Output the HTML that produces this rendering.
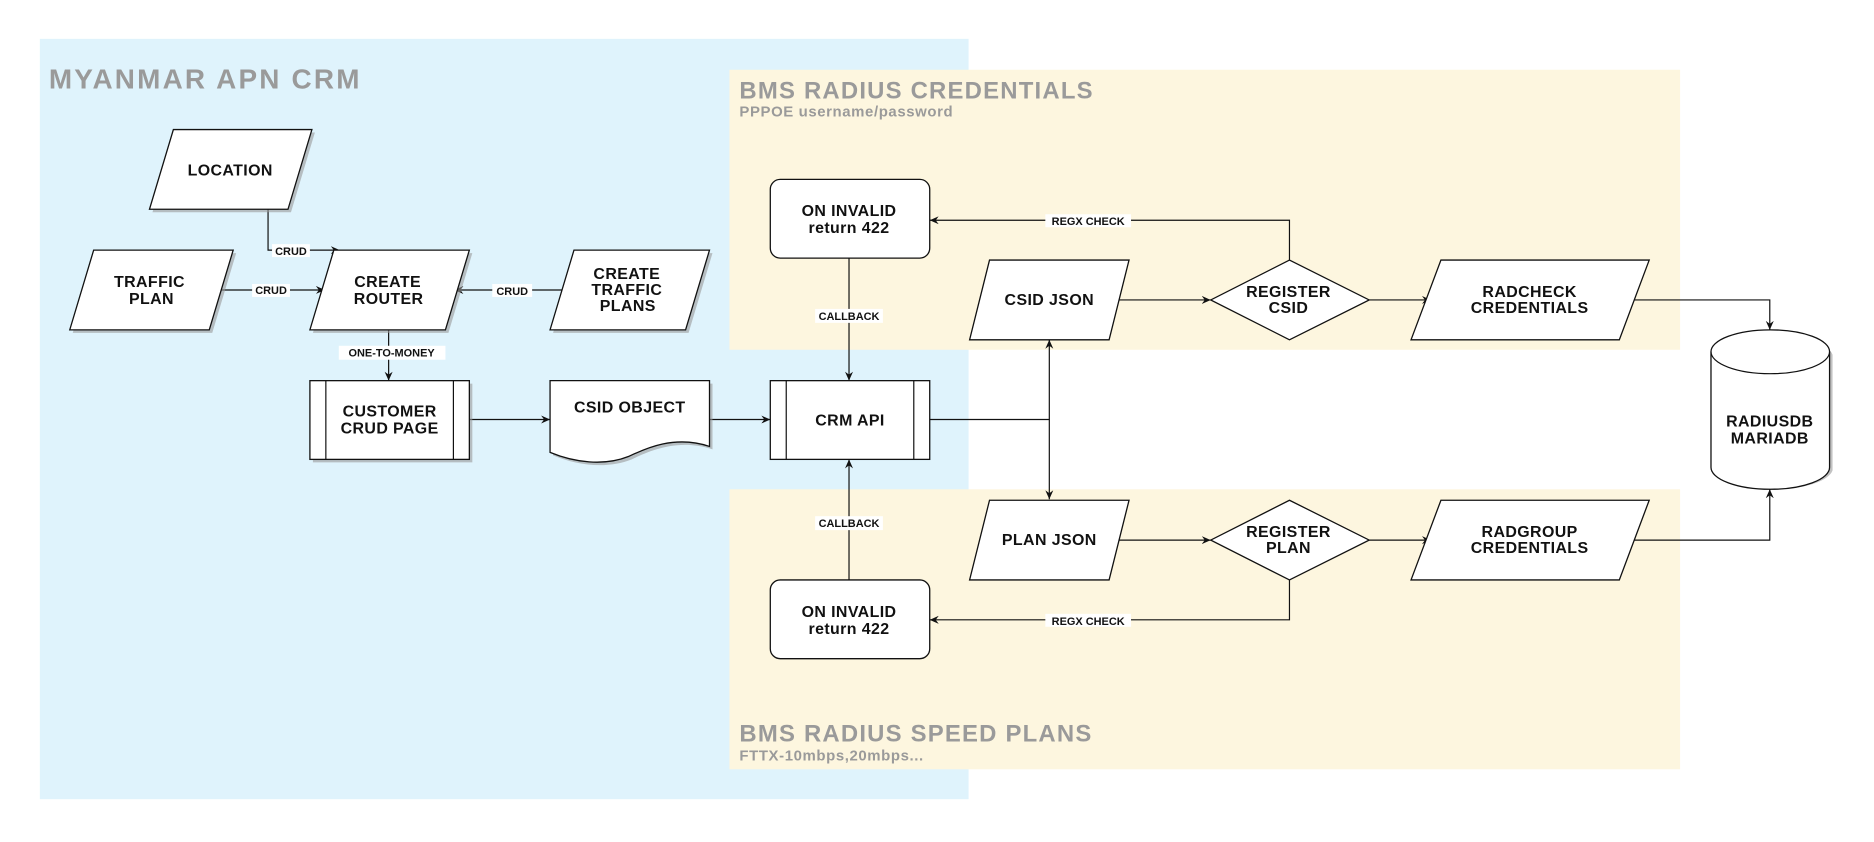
<!DOCTYPE html>
<html><head><meta charset="utf-8"><style>
html,body{margin:0;padding:0;background:#fff;}
svg{display:block;}
text{font-family:"Liberation Sans",sans-serif;font-weight:bold;}
.n{font-size:16px;fill:#111;text-anchor:middle;letter-spacing:0.4px;}
.l{font-size:11px;fill:#111;text-anchor:middle;}
.s{fill:#fff;stroke:#111;stroke-width:1.3;}
.sh{fill:#999;opacity:.6;}
.e{fill:none;stroke:#111;stroke-width:1.2;}
.lb{fill:#fff;}
</style></head><body>
<svg width="1874" height="842" viewBox="0 0 1874 842" xmlns="http://www.w3.org/2000/svg">
<defs><marker id="a" markerWidth="10" markerHeight="10" refX="9" refY="5" orient="auto" markerUnits="userSpaceOnUse"><path d="M0,1 L9,5 L0,9 L3,5 Z" fill="#111"/></marker></defs>
<g transform="translate(-1,-1) scale(0.9965)">
<rect x="41" y="40" width="932" height="763" fill="#dff3fc"/>
<rect x="733" y="71" width="954" height="281" fill="#fdf6df"/>
<rect x="733" y="492" width="954" height="281" fill="#fdf6df"/>
<text x="50" y="90" style="font-size:28px;fill:#9a9a9a;letter-spacing:2.2px">MYANMAR APN CRM</text>
<text x="743" y="100" style="font-size:24px;fill:#9a9a9a;letter-spacing:1.2px">BMS RADIUS CREDENTIALS</text>
<text x="743" y="118" style="font-size:15px;fill:#9a9a9a;letter-spacing:0.6px">PPPOE username/password</text>
<text x="743" y="745" style="font-size:24px;fill:#9a9a9a;letter-spacing:1.2px">BMS RADIUS SPEED PLANS</text>
<text x="743" y="764" style="font-size:15px;fill:#9a9a9a;letter-spacing:0.6px">FTTX-10mbps,20mbps...</text>

<path class="e" d="M270,211 V252 H342" marker-end="url(#a)"/>
<rect class="lb" x="274" y="246" width="38" height="13"/><text class="l" x="293" y="257">CRUD</text>
<path class="e" d="M220,292 H327" marker-end="url(#a)"/>
<rect class="lb" x="254" y="286" width="38" height="13"/><text class="l" x="273" y="296">CRUD</text>
<path class="e" d="M567,292 H457" marker-end="url(#a)"/>
<rect class="lb" x="495" y="286" width="40" height="13"/><text class="l" x="515" y="297">CRUD</text>
<path class="e" d="M391,332 V383" marker-end="url(#a)"/>
<rect class="lb" x="341" y="348" width="107" height="14"/><text class="l" x="394" y="359">ONE-TO-MONEY</text>
<path class="e" d="M472,422 H553" marker-end="url(#a)"/>
<path class="e" d="M713,422 H774" marker-end="url(#a)"/>
<path class="e" d="M853,260 V383" marker-end="url(#a)"/>
<rect class="lb" x="819" y="311" width="68" height="14"/><text class="l" x="853" y="322">CALLBACK</text>
<path class="e" d="M853,583 V462" marker-end="url(#a)"/>
<rect class="lb" x="819" y="519" width="68" height="14"/><text class="l" x="853" y="530">CALLBACK</text>
<path class="e" d="M934,422 H1054 V342" marker-end="url(#a)"/>
<path class="e" d="M1054,422 V502" marker-end="url(#a)"/>
<path class="e" d="M1295,262 V222 H934" marker-end="url(#a)"/>
<rect class="lb" x="1050" y="216" width="86" height="13"/><text class="l" x="1093" y="227">REGX CHECK</text>
<path class="e" d="M1295,583 V623 H934" marker-end="url(#a)"/>
<rect class="lb" x="1050" y="617" width="86" height="13"/><text class="l" x="1093" y="628">REGX CHECK</text>
<path class="e" d="M1118,302 H1216" marker-end="url(#a)"/>
<path class="e" d="M1375,302 H1437" marker-end="url(#a)"/>
<path class="e" d="M1118,543 H1216" marker-end="url(#a)"/>
<path class="e" d="M1375,543 H1437" marker-end="url(#a)"/>
<path class="e" d="M1632,302 H1777 V332" marker-end="url(#a)"/>
<path class="e" d="M1632,543 H1777 V492" marker-end="url(#a)"/>

<g>
<polygon class="sh" points="178,134 317,134 293,214 154,214"/>
<polygon class="s" points="175,131 314,131 290,211 151,211"/>
<text class="n" x="232" y="177">LOCATION</text>
</g>
<g>
<polygon class="sh" points="98,255 238,255 214,335 74,335"/>
<polygon class="s" points="95,252 235,252 211,332 71,332"/>
<text class="n" x="151" y="289">TRAFFIC</text><text class="n" x="153" y="306">PLAN</text>
</g>
<g>
<polygon class="sh" points="339,255 475,255 451,335 315,335"/>
<polygon class="s" points="336,252 472,252 448,332 312,332"/>
<text class="n" x="390" y="289">CREATE</text><text class="n" x="391" y="306">ROUTER</text>
</g>
<g>
<polygon class="sh" points="580,255 716,255 692,335 556,335"/>
<polygon class="s" points="577,252 713,252 689,332 553,332"/>
<text class="n" x="630" y="281">CREATE</text><text class="n" x="630" y="297">TRAFFIC</text><text class="n" x="631" y="313">PLANS</text>
</g>
<g>
<rect class="sh" x="315" y="386" width="160" height="79"/>
<rect class="s" x="312" y="383" width="160" height="79"/>
<path class="e" d="M328,383 V462 M456,383 V462"/>
<text class="n" x="392" y="419">CUSTOMER</text><text class="n" x="392" y="436">CRUD PAGE</text>
</g>
<g>
<path class="sh" d="M556,386 H716 V452 C680,440 650,455 635,462 C610,472 580,468 556,458 Z"/>
<path class="s" d="M553,383 H713 V449 C677,437 647,452 632,459 C607,469 577,465 553,455 Z"/>
<text class="n" x="633" y="415">CSID OBJECT</text>
</g>
<g>
<rect class="s" x="774" y="383" width="160" height="79"/>
<path class="e" d="M790,383 V462 M918,383 V462"/>
<text class="n" x="854" y="428">CRM API</text>
</g>
<g>
<rect class="s" x="774" y="181" width="160" height="79" rx="10"/>
<text class="n" x="853" y="218">ON INVALID</text><text class="n" x="853" y="235">return 422</text>
</g>
<g>
<rect class="s" x="774" y="583" width="160" height="79" rx="10"/>
<text class="n" x="853" y="620">ON INVALID</text><text class="n" x="853" y="637">return 422</text>
</g>
<g>
<polygon class="s" points="994,262 1134,262 1114,342 974,342"/>
<text class="n" x="1054" y="307">CSID JSON</text>
</g>
<g>
<polygon class="s" points="994,503 1134,503 1114,583 974,583"/>
<text class="n" x="1054" y="548">PLAN JSON</text>
</g>
<g>
<polygon class="s" points="1295,262 1375,302 1295,342 1216,302"/>
<text class="n" x="1294" y="299">REGISTER</text><text class="n" x="1294" y="315">CSID</text>
</g>
<g>
<polygon class="s" points="1295,503 1375,543 1295,583 1216,543"/>
<text class="n" x="1294" y="540">REGISTER</text><text class="n" x="1294" y="556">PLAN</text>
</g>
<g>
<polygon class="s" points="1447,262 1656,262 1626,342 1417,342"/>
<text class="n" x="1536" y="299">RADCHECK</text><text class="n" x="1536" y="315">CREDENTIALS</text>
</g>
<g>
<polygon class="s" points="1447,503 1656,503 1626,583 1417,583"/>
<text class="n" x="1536" y="540">RADGROUP</text><text class="n" x="1536" y="556">CREDENTIALS</text>
</g>
<g>
<path class="sh" d="M1721,357 A60,22 0 0 1 1840,357 V473 A60,22 0 0 1 1721,473 Z"/>
<path class="s" d="M1718,354 A59.5,22 0 0 1 1837,354 V470 A59.5,22 0 0 1 1718,470 Z"/>
<path class="e" d="M1718,354 A59.5,22 0 0 0 1837,354"/>
<text class="n" x="1777" y="429">RADIUSDB</text><text class="n" x="1777" y="446">MARIADB</text>
</g>
</g>
</svg>
</body></html>
